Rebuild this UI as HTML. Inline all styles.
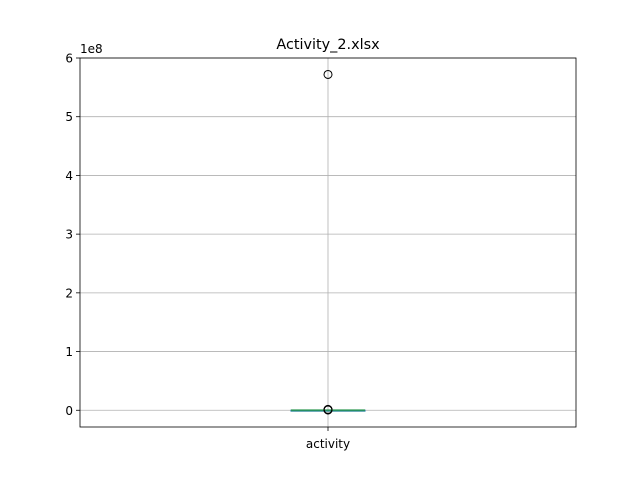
<!DOCTYPE html>
<html><head><meta charset="utf-8"><style>
body{margin:0;background:#fff}
svg{font-family:"DejaVu Sans","Liberation Sans",sans-serif}
</style></head><body>
<svg width="640" height="480">
<rect width="640" height="480" fill="#fff"/>
<g id="grid"></g>
<g id="plot"></g>
<rect x="80" y="58" width="496" height="369" fill="none" stroke="#000" stroke-width="0.8"/>
<g id="ticks"></g>
<text x="80" y="53" font-size="12">1e8</text>
<text x="328" y="49" font-size="14.4" text-anchor="middle">Activity_2.xlsx</text>
<line x1="328" y1="427" x2="328" y2="431" stroke="#000" stroke-width="0.8"/>
<text x="328" y="448" font-size="12" text-anchor="middle">activity</text>
</svg>
<script>
const yTicks=[0,1,2,3,4,5,6];
const q1=[0.0], q3=[0.002], median=[0.001], whiskerLo=[0], whiskerHi=[0.004];
const outliers=[5.72,0.005,0.008,0.01,0.015];
const yMin=-0.285, yMax=6.0;
const T=58,B=427,L=80,R=576,cx=328;
const y=v=>B-(v-yMin)/(yMax-yMin)*(B-T);
const NS="http://www.w3.org/2000/svg";
function mk(tag,attrs,parent){const e=document.createElementNS(NS,tag);for(const k in attrs)e.setAttribute(k,attrs[k]);document.getElementById(parent).appendChild(e);return e;}
const xg=mk('line',{x1:cx,x2:cx,y1:T,y2:B,stroke:'#b0b0b0','stroke-width':0.8},'grid');


yTicks.forEach(t=>{
  const yy=y(t);
  const g=mk('line',{x1:L,x2:R,y1:yy,y2:yy,stroke:'#b0b0b0','stroke-width':0.8},'grid');
  
  
  const tk=mk('line',{x1:L-4,x2:L,y1:yy,y2:yy,stroke:'#000','stroke-width':0.8},'ticks');
  
  
  const tx=mk('text',{x:L-7,y:yy+4.5,'font-size':12,'text-anchor':'end'},'ticks');
  tx.textContent=t;
  
  
});
const bw=37;
const box=mk('rect',{x:cx-bw,y:y(q3[0]),width:2*bw,height:Math.max(1,y(q1[0])-y(q3[0])),fill:'none',stroke:'#1f77b4','stroke-width':1},'plot');


const wh=mk('line',{x1:cx,x2:cx,y1:y(whiskerLo[0]),y2:y(whiskerHi[0]),stroke:'#1f77b4'},'plot');


const med=mk('line',{x1:cx-bw,x2:cx+bw,y1:y(median[0]),y2:y(median[0]),stroke:'#2ca02c','stroke-width':2,opacity:0.6},'plot');


outliers.forEach(v=>{
  const c=mk('circle',{cx:cx,cy:y(v),r:4,fill:'none',stroke:'#000','stroke-width':1},'plot');
  
  
});
</script>
</body></html>
